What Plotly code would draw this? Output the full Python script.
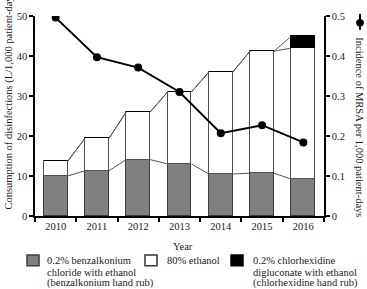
import plotly.graph_objects as go

years = ["2010", "2011", "2012", "2013", "2014", "2015", "2016"]
benzalkonium = [10.0, 11.3, 14.1, 13.0, 10.5, 10.7, 9.2]
ethanol = [3.7, 8.1, 11.9, 18.0, 25.5, 30.5, 32.8]
chlorhexidine = [0, 0, 0, 0, 0, 0, 2.95]
mrsa = [0.496, 0.397, 0.371, 0.310, 0.207, 0.227, 0.184]

FONT = "Liberation Serif"
FS = 10.5
TXT = "#1a1a1a"
W = 0.58
xs = list(range(len(years)))

fig = go.Figure()
fig.add_trace(go.Bar(x=xs, y=benzalkonium, width=W, marker=dict(color="#808080", line=dict(color="#3c3c3c", width=1)), showlegend=False))
fig.add_trace(go.Bar(x=xs, y=ethanol, width=W, marker=dict(color="white", line=dict(color="#505050", width=1)), showlegend=False))
fig.add_trace(go.Bar(x=xs, y=chlorhexidine, width=W, marker=dict(color="black", line=dict(color="black", width=1)), showlegend=False))

# series lines between stacked segments
levels = []
c = [0.0] * len(xs)
for s in (benzalkonium, ethanol, chlorhexidine):
    c = [a + b for a, b in zip(c, s)]
    levels.append(c)
for lv in levels:
    lx, ly = [], []
    for i in range(len(xs) - 1):
        lx += [xs[i] + W / 2, xs[i + 1] - W / 2, None]
        ly += [lv[i], lv[i + 1], None]
    fig.add_trace(go.Scatter(x=lx, y=ly, mode="lines", line=dict(color="#555555", width=1), showlegend=False, hoverinfo="skip"))

fig.add_trace(go.Scatter(x=xs, y=mrsa, yaxis="y2", mode="lines+markers",
                         line=dict(color="black", width=2), marker=dict(color="black", size=8), showlegend=False))

x0px, x1px, ytop, ybot = 35, 324, 11, 216
def px(x):
    return (x - x0px) / (x1px - x0px)
def py(y):
    return (ybot - y) / (ybot - ytop)

shapes = []
ann = []
# custom legend
items = [
    (27, 45, "#808080", "#3c3c3c", ["0.2% benzalkonium", "chloride with ethanol", "(benzalkonium hand rub)"]),
    (145, 165, "white", "#333333", ["80% ethanol"]),
    (231, 251, "black", "black", ["0.2% chlorhexidine", "digluconate with ethanol", "(chlorhexidine hand rub)"]),
]
for bx, tx, fill, lc, lines in items:
    shapes.append(dict(type="rect", xref="paper", yref="paper", x0=px(bx), x1=px(bx + 12), y0=py(256), y1=py(267),
                       fillcolor=fill, line=dict(color=lc, width=1.5)))
    for k, t in enumerate(lines):
        ann.append(dict(text=t, xref="paper", yref="paper", x=px(tx), y=py(262 + 11.5 * k), xanchor="left", yanchor="middle",
                        showarrow=False, font=dict(family=FONT, size=FS, color=TXT)))

ann.append(dict(text="Year", xref="paper", yref="paper", x=px(183), y=py(247), xanchor="center", yanchor="middle",
                showarrow=False, font=dict(family=FONT, size=FS, color=TXT)))
ann.append(dict(text="Consumption of disinfections (L/1,000 patient-days)", xref="paper", yref="paper", x=px(9), y=py(212),
                xanchor="center", yanchor="bottom", textangle=-90, showarrow=False, font=dict(family=FONT, size=FS, color=TXT)))
ann.append(dict(text="Incidence of MRSA per 1,000 patient-days", xref="paper", yref="paper", x=px(360), y=py(125),
                xanchor="center", yanchor="middle", textangle=90, showarrow=False, font=dict(family=FONT, size=FS, color=TXT)))
# legend marker for MRSA line
shapes.append(dict(type="line", xref="paper", yref="paper", x0=px(360), x1=px(360), y0=py(9), y1=py(25), line=dict(color="black", width=2)))
shapes.append(dict(type="circle", xref="paper", yref="paper", x0=px(356.5), x1=px(363.5), y0=py(21.5), y1=py(14.5),
                   fillcolor="black", line=dict(color="black", width=1)))

axfont = dict(family=FONT, size=FS, color=TXT)
fig.update_layout(
    width=367, height=289, margin=dict(l=35, r=43, t=11, b=73),
    plot_bgcolor="white", paper_bgcolor="white", barmode="stack", bargap=0,
    xaxis=dict(range=[-0.5, 6.5], tickvals=xs, ticktext=years, ticks="", showgrid=False, zeroline=False,
               showline=True, linecolor="black", linewidth=1.5, tickfont=axfont,
               minor=dict(tick0=0.5, dtick=1, ticks="outside", ticklen=4, tickcolor="black", tickwidth=1.5, showgrid=False)),
    yaxis=dict(range=[0, 50], tickvals=[0, 10, 20, 30, 40, 50], ticks="outside", ticklen=4, tickwidth=1.5, tickcolor="black",
               showgrid=False, zeroline=False, showline=True, linecolor="black", linewidth=1.5, tickfont=axfont),
    yaxis2=dict(range=[0, 0.5], overlaying="y", side="right", tickvals=[0, 0.1, 0.2, 0.3, 0.4, 0.5],
                ticktext=["0", "0.1", "0.2", "0.3", "0.4", "0.5"], ticks="outside", ticklen=4, tickwidth=1.5,
                tickcolor="black", showgrid=False, zeroline=False, showline=True, linecolor="black", linewidth=1.5, tickfont=axfont),
    shapes=shapes, annotations=ann, showlegend=False,
)
fig.write_html("out.html")
